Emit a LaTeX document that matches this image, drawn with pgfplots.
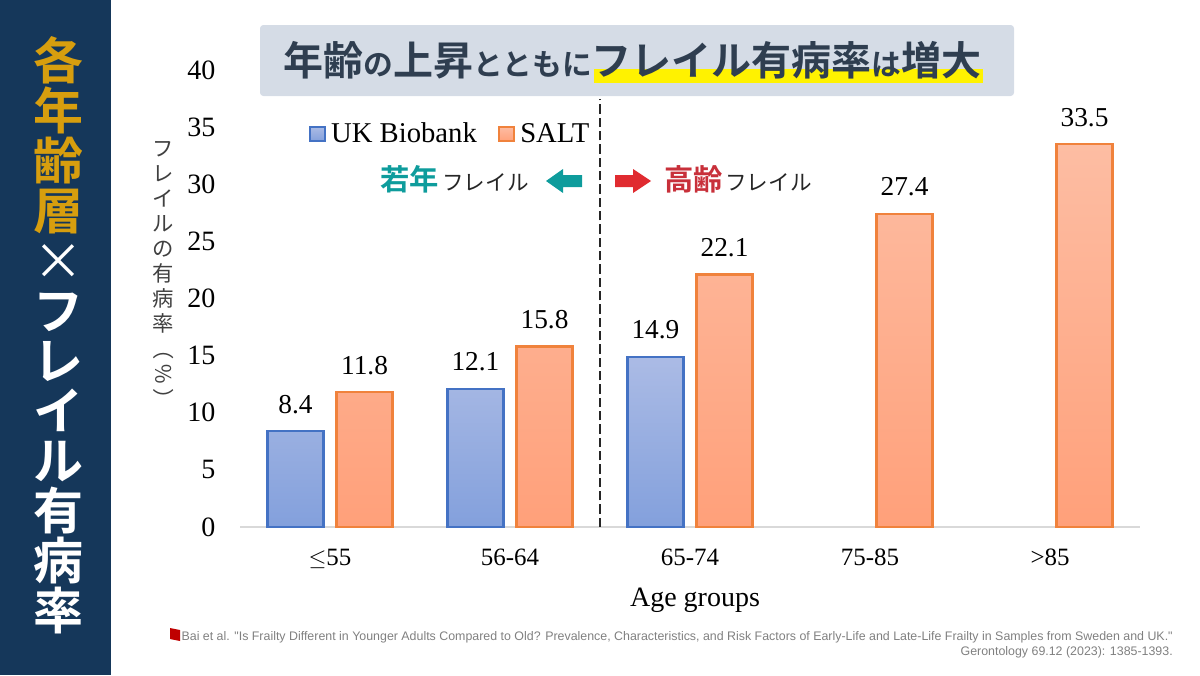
\documentclass[border=0pt]{standalone}
\usepackage{graphicx}
\usepackage{pgfplots}
\pgfplotsset{compat=1.18}
\usepackage{fontspec}
\setmainfont{Liberation Serif}
\newfontfamily\jp{Noto Sans CJK JP}[BoldFont={Noto Sans CJK JP Bold}]
\newfontfamily\arial{Liberation Sans}

\definecolor{panel}{HTML}{15375A}
\definecolor{gold}{HTML}{D79E0E}
\definecolor{titlebox}{HTML}{D5DCE6}
\definecolor{titletext}{HTML}{2F3E50}
\definecolor{teal1}{HTML}{0E9C9C}
\definecolor{red1}{HTML}{C8303A}
\definecolor{redarrow}{HTML}{E02B30}
\definecolor{blueline}{HTML}{4472C4}
\definecolor{orangeline}{HTML}{F0823C}
\definecolor{bluetop}{HTML}{ABBBE5}
\definecolor{bluebot}{HTML}{83A0DC}
\definecolor{orangetop}{HTML}{FDBDA3}
\definecolor{orangebot}{HTML}{FFA07A}

% sizes: 1 px of the reference = 0.75pt
\newcommand{\bigT}{\fontsize{30}{30}\selectfont}
\newcommand{\smallT}{\fontsize{22.3}{22}\selectfont}
\newcommand{\turn}[1]{\rotatebox[origin=c]{-90}{#1}}

\pgfplotstableread{
x val
0 8.4
1 12.1
2 14.9
}\ukb
\pgfplotstableread{
x val
0 11.8
1 15.8
2 22.1
3 27.4
4 33.5
}\salt

\begin{document}
\begin{tikzpicture}[x=0.75pt,y=-0.75pt]
\path[use as bounding box] (0,0) rectangle (1200,675);
\fill[panel] (0,0) rectangle (111,675);
\node[anchor=north,align=center,inner sep=0pt,font=\jp\bfseries\fontsize{37.5}{37.5}\selectfont] at (58,36)
  {\textcolor{gold}{各}\\\textcolor{gold}{年}\\\textcolor{gold}{齢}\\\textcolor{gold}{層}\\
   \textcolor{white}{\mdseries ×}\\\textcolor{white}{フ}\\\textcolor{white}{レ}\\\textcolor{white}{イ}\\\textcolor{white}{ル}\\
   \textcolor{white}{有}\\\textcolor{white}{病}\\\textcolor{white}{率}};

\coordinate (o) at (240,527);
\begin{axis}[
  at={(o)}, anchor=south west,
  scale only axis, width=675pt, height=342.75pt,
  xmin=-0.5, xmax=4.5, ymin=0, ymax=40,
  axis x line=bottom, axis y line=left,
  x axis line style={draw=black!15,line width=1.5pt,-},
  y axis line style={draw=none},
  xtick={0,1,2,3,4},
  xticklabels={$\leq$55,56-64,65-74,75-85,>85},
  ytick={0,5,...,40},
  major tick length=0pt,
  /pgf/number format/assume math mode=true,
  xticklabel style={font=\fontsize{18.7}{22}\selectfont,yshift=-13pt},
  yticklabel style={font=\fontsize{21}{22}\selectfont,xshift=-15pt},
  xlabel={Age groups},
  xlabel style={font=\fontsize{21}{22}\selectfont,yshift=-7.5pt,xshift=3.75pt},
  ylabel={フ\\レ\\イ\\ル\\の\\有\\病\\率\\\turn{（}\\\turn{％}\\\turn{）}},
  ylabel style={rotate=-90,align=center,text=black!75,font=\jp\fontsize{16}{18.75}\selectfont,at={(axis description cs:-0.085,0.55)},anchor=center},
  clip=false,
  legend style={at={(axis cs:-0.117,34.4)},anchor=west,draw=none,fill=none,
    legend columns=2,font=\fontsize{21.5}{22}\selectfont,
    /tikz/every even column/.style={column sep=14pt},
    /tikz/every odd column/.style={column sep=2pt},
    inner sep=0pt},
  legend image code/.code={\draw[#1,line width=1.5pt] (0pt,-5.5pt) rectangle (11pt,5.5pt);},
  every node near coord/.style={font=\fontsize{20.5}{22}\selectfont,color=black,yshift=9pt},
]
\addplot[ybar,bar width=42pt,bar shift=-25.9pt,draw=blueline,line width=1.8pt,
  top color=bluetop,bottom color=bluebot,nodes near coords,
  every node near coord/.append style={xshift=-25.9pt}] table[x=x,y=val] {\ukb};
\addlegendentry{UK Biobank}
\addplot[ybar,bar width=42pt,bar shift=25.9pt,draw=orangeline,line width=1.8pt,
  top color=orangetop,bottom color=orangebot,nodes near coords,
  every node near coord/.append style={xshift=25.9pt}] table[x=x,y=val] {\salt};
\addlegendentry{SALT}
\addplot[forget plot,black!85,line width=1.5pt,dash pattern=on 7pt off 3pt] coordinates {(1.5,0) (1.5,37.5)};
\end{axis}

% title box
\fill[titlebox,rounded corners=2.5pt] (260,25) rectangle (1014,96);
\fill[yellow] (594,69) rectangle (983,83);
\node[anchor=base west,inner sep=0pt,text=titletext,font=\jp\bfseries] at (283,75)
 {\bigT 年齢\smallT の\bigT 上昇\smallT とともに\bigT フレイル有病率\smallT は\bigT 増大};

% young / old annotations
\node[anchor=base west,inner sep=0pt,text=teal1,font=\jp\bfseries\fontsize{22}{22}\selectfont] at (380,190) {若年};
\node[anchor=base west,inner sep=0pt,text=black!85,font=\jp\fontsize{16.2}{16}\selectfont] at (442,190) {フレイル};
\fill[teal1] (546,181) -- (563,169) -- (563,175) -- (582,175) -- (582,187) -- (563,187) -- (563,193) -- cycle;
\fill[redarrow] (651,181) -- (633,169) -- (633,175) -- (615,175) -- (615,187) -- (633,187) -- (633,193) -- cycle;
\node[anchor=base west,inner sep=0pt,text=red1,font=\jp\bfseries\fontsize{22}{22}\selectfont] at (664,190) {高齢};
\node[anchor=base west,inner sep=0pt,text=black!85,font=\jp\fontsize{16.2}{16}\selectfont] at (725,190) {フレイル};

% citation
\fill[red!75!black] (170,628) -- (180,630) -- (180,641) -- (170,639) -- cycle;
\node[anchor=north east,align=right,inner sep=0pt,text=black!50,font=\arial\fontsize{9.3}{11.25}\selectfont] at (1173,631)
 {Bai et al. "Is Frailty Different in Younger Adults Compared to Old? Prevalence, Characteristics, and Risk Factors of Early-Life and Late-Life Frailty in Samples from Sweden and UK."\\
  Gerontology 69.12 (2023): 1385-1393.};
\end{tikzpicture}
\end{document}
